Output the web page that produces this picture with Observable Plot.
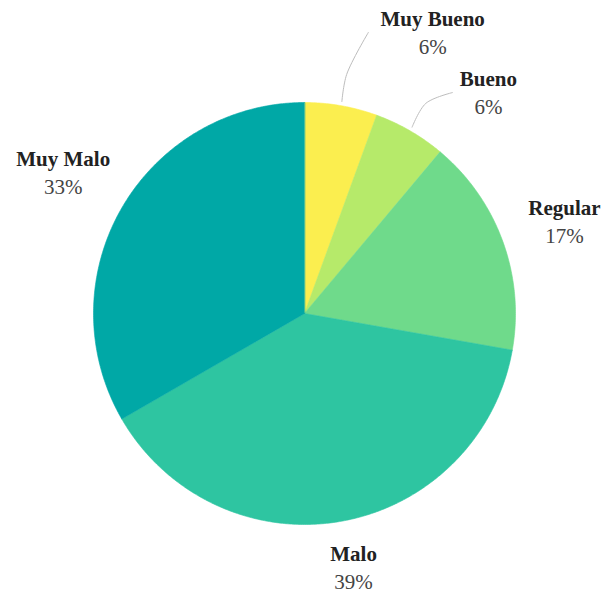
<!DOCTYPE html>
<html>
<head>
<meta charset="utf-8">
<script src="https://cdn.jsdelivr.net/npm/d3@7"></script>
<script src="https://cdn.jsdelivr.net/npm/@observablehq/plot@0.6"></script>
<style>
  html, body { margin: 0; padding: 0; background: #ffffff; }
  #chart svg { display: block; }
  #chart svg text { font-family: "Liberation Serif", "Times New Roman", Times, serif !important; }
</style>
</head>
<body>
<div id="chart"></div>
<script>
// ---- data ----
const labels = ["Muy Bueno", "Bueno", "Regular", "Malo", "Muy Malo"];
const counts = [1, 1, 3, 7, 6];
const colors = ["#fbee4f", "#b6ea6a", "#6fda8b", "#2ec5a1", "#00a8a6"];

// ---- label layout (angles in degrees clockwise from 12 o'clock, radius in pie radii) ----
const labelLayout = {
  "Muy Bueno": {angle: 24.6, r: 1.459},
  "Bueno":     {angle: 39.9, r: 1.359},
  "Regular":   {angle: 70.7, r: 1.305},
  "Malo":      {angle: 169.1, r: 1.231},
  "Muy Malo":  {angle: 300.1, r: 1.322}
};
const leaderEnds = {
  "Muy Bueno": {angle: 12.8, r: 1.366},
  "Bueno":     {angle: 33.8, r: 1.26}
};

const total = d3.sum(counts);
const arcs = d3.pie().sort(null).value(d => d)(counts);
const rad = Math.PI / 180;
const polar = (a, r) => ({x: r * Math.sin(a), y: r * Math.cos(a)});

// slice polygons
const slicePts = [];
arcs.forEach((a, i) => {
  const label = labels[i];
  slicePts.push({label, ...polar(0, 0)});
  const n = Math.max(2, Math.ceil((a.endAngle - a.startAngle) / (0.5 * rad)));
  for (let k = 0; k <= n; k++) {
    const t = a.startAngle + (a.endAngle - a.startAngle) * k / n;
    slicePts.push({label, ...polar(t, 1)});
  }
});

// labels
const labelData = labels.map((label, i) => {
  const L = labelLayout[label];
  const p = polar(L.angle * rad, L.r);
  return {label, pct: Math.round(counts[i] / total * 100) + "%", x: p.x, y: p.y};
});

// leader lines
const leaderPts = [];
Object.keys(leaderEnds).forEach(label => {
  const i = labels.indexOf(label);
  const mid = (arcs[i].startAngle + arcs[i].endAngle) / 2;
  const e = leaderEnds[label];
  leaderPts.push({label, ...polar(mid, 1.02)});
  leaderPts.push({label, ...polar(mid, 1.15)});
  leaderPts.push({label, ...polar(e.angle * rad, e.r)});
});

const font = "Liberation Serif";

const chart = Plot.plot({
  width: 603,
  height: 597,
  marginLeft: 93,
  marginRight: 88,
  marginTop: 102,
  marginBottom: 73,
  x: {domain: [-1, 1], axis: null},
  y: {domain: [-1, 1], axis: null},
  color: {domain: labels, range: colors},
  style: {background: "#ffffff", overflow: "visible", fontFamily: font},
  marks: [
    Plot.line(slicePts, {x: "x", y: "y", z: "label", fill: "label", stroke: "label", strokeWidth: 0.6, curve: "linear-closed"}),
    Plot.line(leaderPts, {x: "x", y: "y", z: "label", stroke: "#bdbdbd", strokeWidth: 1, curve: "catmull-rom"}),
    Plot.text(labelData, {x: "x", y: "y", text: "label", dy: -14, fontSize: 21, fontWeight: "bold", fill: "#222", fontFamily: font}),
    Plot.text(labelData, {x: "x", y: "y", text: "pct", dy: 14, fontSize: 21, fill: "#444", fontFamily: font})
  ]
});
document.getElementById("chart").appendChild(chart);
</script>
</body>
</html>
